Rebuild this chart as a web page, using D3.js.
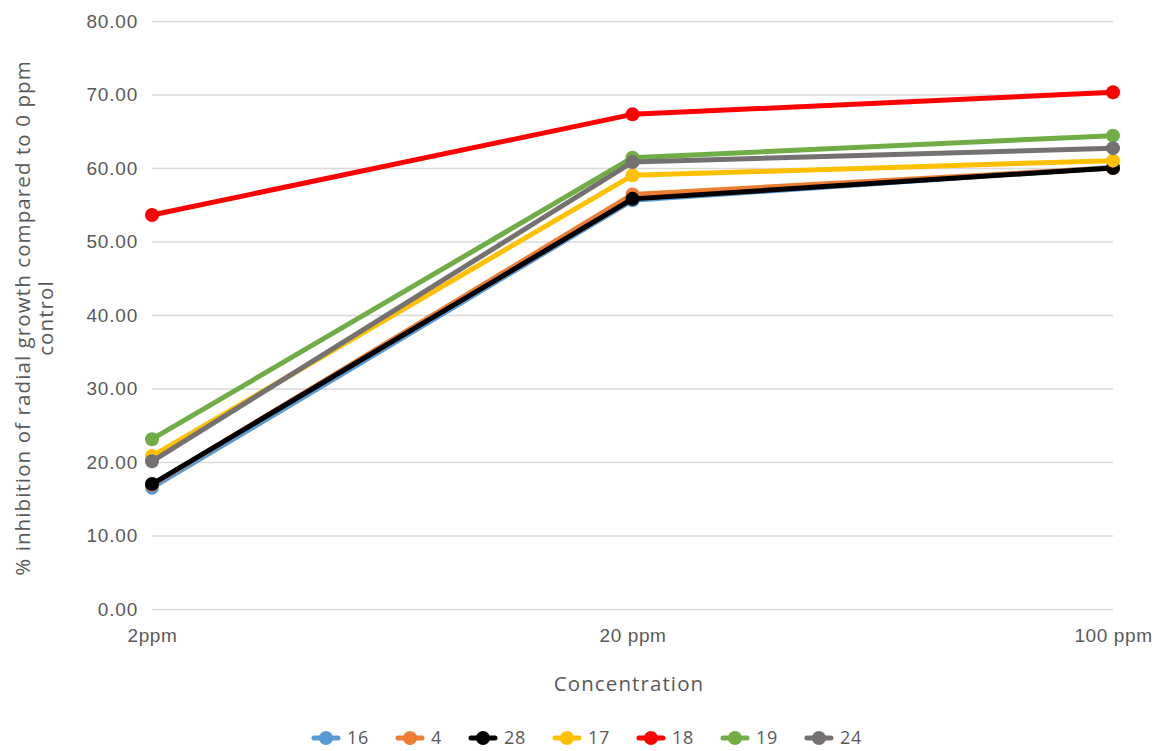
<!DOCTYPE html>
<html>
<head>
<meta charset="utf-8">
<script src="https://cdn.jsdelivr.net/npm/d3@7"></script>
<style>
  html, body { margin: 0; padding: 0; background: #fff; }
  svg { display: block; font-family: "Open Sans", "Noto Sans", sans-serif; }
</style>
</head>
<body>
<svg id="chart" width="1159" height="751"></svg>
<script>
// Concentrations tested
const concentrations = ["2ppm", "20 ppm", "100 ppm"];

// % inhibition of radial growth per isolate
const series16 = [16.5, 55.6, 60.1];
const series4  = [16.9, 56.4, 60.0];
const series28 = [17.0, 55.8, 60.0];
const series17 = [20.8, 59.0, 61.0];
const series18 = [53.6, 67.3, 70.3];
const series19 = [23.1, 61.4, 64.4];
const series24 = [20.1, 60.8, 62.7];

const seriesNames = ["16", "4", "28", "17", "18", "19", "24"];
const seriesColors = ["#5B9BD5", "#ED7D31", "#000000", "#FFC000", "#FF0000", "#70AD47", "#767171"];
const seriesValues = [series16, series4, series28, series17, series18, series19, series24];

const yTicks = [0, 10, 20, 30, 40, 50, 60, 70, 80];

const svg = d3.select("#chart");
const margin = { left: 152, right: 46, top: 21, bottom: 142 };
const W = 1159, H = 751;
const textColor = "#595959";

const x = d3.scalePoint().domain(concentrations).range([margin.left, W - margin.right]);
const y = d3.scaleLinear().domain([0, 80]).range([H - margin.bottom, margin.top]);

// Horizontal gridlines and y labels
const yAxis = d3.axisLeft(y).tickValues(yTicks).tickFormat(d3.format(".2f"))
  .tickSize(-(W - margin.right - margin.left)).tickPadding(14);
const gy = svg.append("g").attr("transform", `translate(${margin.left},0)`).call(yAxis);
gy.select(".domain").remove();
gy.selectAll(".tick line").attr("stroke", "#D9D9D9").attr("stroke-width", 1.3);
gy.selectAll(".tick text").attr("fill", textColor)
  .style("font-size", "19px").style("letter-spacing", "0.8px");

// Category labels
const xAxis = d3.axisBottom(x).tickSize(0).tickPadding(20);
const gx = svg.append("g").attr("transform", `translate(0,${H - margin.bottom})`).call(xAxis);
gx.select(".domain").remove();
gx.selectAll(".tick text").attr("fill", textColor)
  .style("font-size", "19px").style("letter-spacing", "0.6px");

// Axis titles
svg.append("text")
  .attr("x", 629).attr("y", 691)
  .attr("text-anchor", "middle").attr("fill", textColor)
  .style("font-size", "20.5px").style("letter-spacing", "1.1px")
  .text("Concentration");

const yt = svg.append("text")
  .attr("transform", `translate(30,318) rotate(-90)`)
  .attr("text-anchor", "middle").attr("fill", textColor)
  .style("font-size", "20.5px").style("letter-spacing", "1.1px");
yt.append("tspan").attr("x", 0).attr("dy", 0).text("% inhibition of radial growth compared to 0 ppm");
yt.append("tspan").attr("x", 0).attr("dy", 23).text("control");

// Lines with markers
const line = d3.line().x((d, i) => x(concentrations[i])).y(d => y(d));
seriesValues.forEach((vals, k) => {
  const g = svg.append("g");
  g.append("path").datum(vals).attr("d", line)
    .attr("fill", "none").attr("stroke", seriesColors[k]).attr("stroke-width", 5)
    .attr("stroke-linejoin", "round").attr("stroke-linecap", "round");
  g.selectAll("circle").data(vals).join("circle")
    .attr("cx", (d, i) => x(concentrations[i])).attr("cy", d => y(d)).attr("r", 7)
    .attr("fill", seriesColors[k]);
});

// Legend
const legendY = 738;
const legend = svg.append("g");
const items = [];
seriesNames.forEach((name, k) => {
  const it = legend.append("g");
  it.append("line").attr("x1", -12).attr("x2", 12).attr("y1", 0).attr("y2", 0)
    .attr("stroke", seriesColors[k]).attr("stroke-width", 5).attr("stroke-linecap", "round");
  it.append("circle").attr("cx", 0).attr("cy", 0).attr("r", 7).attr("fill", seriesColors[k]);
  const t = it.append("text").attr("x", 21).attr("y", 0).attr("dy", "0.35em").attr("fill", textColor)
    .style("font-size", "18px").style("letter-spacing", "0.7px").text(name);
  items.push({ it, w: 21 + t.node().getComputedTextLength() });
});
const gap = 41;
let lx = 326;
items.forEach(d => {
  d.it.attr("transform", `translate(${lx},${legendY})`);
  lx += d.w + gap;
});
</script>
</body>
</html>
